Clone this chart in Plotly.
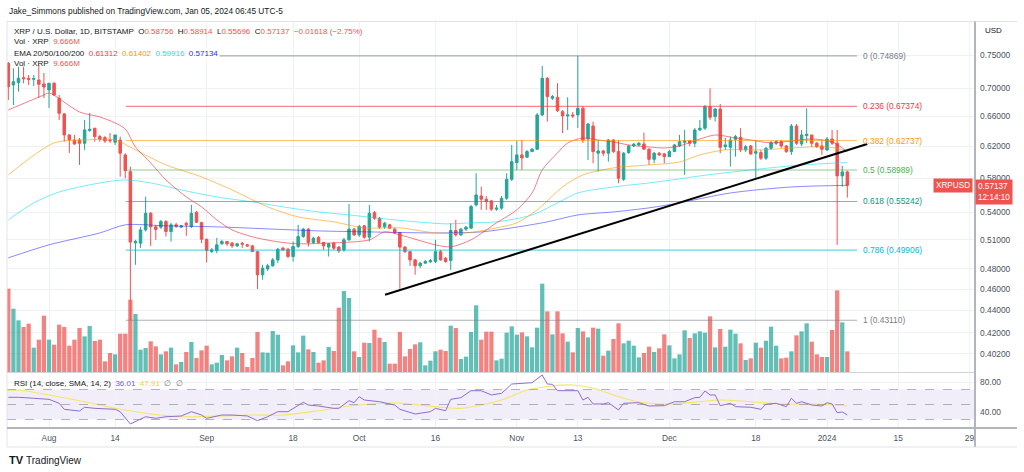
import math
import pandas as pd
import plotly.graph_objects as go

# ---------------- data ----------------
start_date = "2023-07-24"   # first visible daily candle

open_ = [
    0.7371, 0.7045, 0.7079, 0.7153, 0.7144, 0.7129, 0.7119, 0.7060, 0.6972, 0.7070,
    0.6852, 0.6632, 0.6347, 0.6281, 0.6281, 0.6238, 0.6405, 0.6437, 0.6325, 0.6312,
    0.6281, 0.6251, 0.6281, 0.6088, 0.5879, 0.5067, 0.5064, 0.5206, 0.5390, 0.5239,
    0.5236, 0.5297, 0.5188, 0.5261, 0.5236, 0.5279, 0.5243, 0.5401, 0.5286, 0.5106,
    0.4975, 0.4986, 0.5057, 0.5081, 0.5064, 0.5035, 0.5062, 0.5046, 0.5035, 0.4975,
    0.4740, 0.4799, 0.4830, 0.4890, 0.5011, 0.5000, 0.4924, 0.5028, 0.5134, 0.5214,
    0.5071, 0.5124, 0.5071, 0.5022, 0.5064, 0.5022, 0.4993, 0.5099, 0.5214, 0.5152,
    0.5250, 0.5127, 0.5397, 0.5334, 0.5239, 0.5261, 0.5214, 0.5177, 0.5022, 0.4975,
    0.4890, 0.4830, 0.4857, 0.4870, 0.4873, 0.4975, 0.4907, 0.4883, 0.5199, 0.5152,
    0.5214, 0.5225, 0.5485, 0.5588, 0.5550, 0.5531, 0.5436, 0.5448, 0.5561, 0.5786,
    0.5991, 0.6088, 0.6059, 0.6130, 0.6161, 0.6618, 0.7144, 0.6852, 0.6867, 0.6663,
    0.6604, 0.6618, 0.6618, 0.6711, 0.6294, 0.6467, 0.6110, 0.6139, 0.6110, 0.6281,
    0.6130, 0.5786, 0.6118, 0.6203, 0.6216, 0.6229, 0.6161, 0.6032, 0.6110, 0.6101,
    0.6066, 0.6130, 0.6203, 0.6250, 0.6270, 0.6238, 0.6414, 0.6437, 0.6733, 0.6594,
    0.6700, 0.6194, 0.6186, 0.6290, 0.6317, 0.6152, 0.6203, 0.6110, 0.6118, 0.6046,
    0.6174, 0.6238, 0.6259, 0.6203, 0.6130, 0.6467, 0.6229, 0.6338, 0.6347, 0.6238,
    0.6203, 0.6152, 0.6294, 0.6238, 0.5827, 0.58756,
]
high = [
    0.7391, 0.7295, 0.7319, 0.7319, 0.7194, 0.7194, 0.7345, 0.7224, 0.7074, 0.7089,
    0.6900, 0.6645, 0.6360, 0.6347, 0.6307, 0.6549, 0.6645, 0.6441, 0.6347, 0.6334,
    0.6374, 0.6347, 0.6325, 0.6110, 0.5941, 0.5099, 0.5239, 0.5580, 0.5404, 0.5261,
    0.5316, 0.5316, 0.5283, 0.5283, 0.5261, 0.5294, 0.5485, 0.5416, 0.5294, 0.5110,
    0.5014, 0.5120, 0.5099, 0.5088, 0.5078, 0.5067, 0.5078, 0.5057, 0.5046, 0.4983,
    0.4840, 0.4850, 0.4911, 0.5014, 0.5025, 0.5014, 0.5081, 0.5261, 0.5228, 0.5228,
    0.5131, 0.5141, 0.5078, 0.5067, 0.5078, 0.5035, 0.5120, 0.5496, 0.5228, 0.5261,
    0.5261, 0.5485, 0.5416, 0.5349, 0.5294, 0.5272, 0.5228, 0.5184, 0.5035, 0.4983,
    0.4901, 0.4870, 0.4890, 0.4901, 0.5099, 0.4993, 0.4921, 0.5279, 0.5316, 0.5228,
    0.5250, 0.5485, 0.5859, 0.5698, 0.5588, 0.5542, 0.5485, 0.5588, 0.5859, 0.6216,
    0.6268, 0.6281, 0.6152, 0.6177, 0.6645, 0.7330, 0.7164, 0.6900, 0.7070, 0.6687,
    0.6867, 0.6659, 0.74869, 0.6743, 0.6508, 0.6526, 0.6281, 0.6152, 0.6294, 0.6294,
    0.6281, 0.6126, 0.6216, 0.6242, 0.6255, 0.6378, 0.6177, 0.6126, 0.6126, 0.6114,
    0.6152, 0.6229, 0.6347, 0.6414, 0.6281, 0.6441, 0.6549, 0.6757, 0.6997, 0.6715,
    0.6771, 0.6307, 0.6325, 0.6347, 0.6437, 0.6216, 0.6216, 0.6281, 0.6152, 0.6190,
    0.6268, 0.6281, 0.6281, 0.6216, 0.6494, 0.6494, 0.6414, 0.6711, 0.6347, 0.6255,
    0.6281, 0.6320, 0.6414, 0.6414, 0.5950, 0.58914,
]
low = [
    0.6828, 0.6757, 0.6947, 0.7070, 0.7045, 0.7030, 0.6857, 0.6857, 0.6715, 0.6886,
    0.6549, 0.6259, 0.6114, 0.6216, 0.5962, 0.6152, 0.6391, 0.6259, 0.6259, 0.6242,
    0.6242, 0.6216, 0.5818, 0.5799, 0.4311, 0.4840, 0.5014, 0.5188, 0.5035, 0.5099,
    0.5217, 0.5134, 0.5081, 0.5228, 0.5228, 0.5141, 0.5225, 0.5283, 0.5064, 0.4863,
    0.4962, 0.4959, 0.5046, 0.5035, 0.5014, 0.5025, 0.5014, 0.5025, 0.4973, 0.4601,
    0.4691, 0.4779, 0.4820, 0.4860, 0.4983, 0.4911, 0.4873, 0.5011, 0.5120, 0.5028,
    0.5057, 0.5067, 0.4993, 0.4924, 0.4993, 0.4962, 0.4973, 0.5088, 0.5141, 0.5131,
    0.5110, 0.5081, 0.5316, 0.5217, 0.5217, 0.5217, 0.5163, 0.4604, 0.4962, 0.4830,
    0.4740, 0.4809, 0.4850, 0.4860, 0.4857, 0.4880, 0.4860, 0.4789, 0.5134, 0.5141,
    0.5195, 0.5217, 0.5466, 0.5428, 0.5428, 0.5417, 0.5417, 0.5428, 0.5542, 0.5766,
    0.5900, 0.5900, 0.6050, 0.6126, 0.6152, 0.6604, 0.6526, 0.6828, 0.6659, 0.6370,
    0.6414, 0.6576, 0.6441, 0.6242, 0.6024, 0.5983, 0.5879, 0.6075, 0.6003, 0.6114,
    0.5738, 0.5766, 0.6101, 0.6190, 0.6203, 0.6152, 0.5962, 0.5983, 0.6075, 0.5983,
    0.6062, 0.6126, 0.6190, 0.5839, 0.6200, 0.6190, 0.6397, 0.6414, 0.6549, 0.6526,
    0.6110, 0.6152, 0.5941, 0.6066, 0.6126, 0.6126, 0.6088, 0.5799, 0.6024, 0.6024,
    0.6152, 0.6216, 0.6177, 0.6114, 0.6088, 0.6216, 0.6203, 0.6238, 0.6190, 0.6177,
    0.6088, 0.6139, 0.6216, 0.5046, 0.5698, 0.55696,
]
close = [
    0.7020, 0.7094, 0.7144, 0.7138, 0.7129, 0.7141, 0.7055, 0.7016, 0.7070, 0.6900,
    0.6641, 0.6347, 0.6281, 0.6229, 0.6238, 0.6414, 0.6423, 0.6325, 0.6290, 0.6268,
    0.6272, 0.6347, 0.6110, 0.5891, 0.5075, 0.5083, 0.5206, 0.5390, 0.5239, 0.5211,
    0.5297, 0.5188, 0.5261, 0.5243, 0.5250, 0.5261, 0.5390, 0.5290, 0.5106, 0.4986,
    0.4993, 0.5046, 0.5081, 0.5057, 0.5035, 0.5057, 0.5053, 0.5035, 0.4975, 0.4740,
    0.4806, 0.4830, 0.4890, 0.5000, 0.4993, 0.4924, 0.5028, 0.5134, 0.5214, 0.5071,
    0.5117, 0.5071, 0.5035, 0.5057, 0.5011, 0.4983, 0.5099, 0.5214, 0.5152, 0.5243,
    0.5127, 0.5390, 0.5334, 0.5236, 0.5279, 0.5225, 0.5177, 0.5022, 0.4975, 0.4890,
    0.4830, 0.4857, 0.4873, 0.4883, 0.4975, 0.4890, 0.4873, 0.5199, 0.5152, 0.5214,
    0.5236, 0.5466, 0.5600, 0.5550, 0.5523, 0.5436, 0.5448, 0.5561, 0.5786, 0.6003,
    0.6088, 0.6050, 0.6130, 0.6161, 0.6618, 0.7144, 0.6876, 0.6876, 0.6677, 0.6604,
    0.6618, 0.6604, 0.6711, 0.6281, 0.6494, 0.6130, 0.6139, 0.6110, 0.6281, 0.6130,
    0.5799, 0.6110, 0.6203, 0.6225, 0.6238, 0.6161, 0.6032, 0.6110, 0.6088, 0.6066,
    0.6130, 0.6216, 0.6259, 0.6270, 0.6238, 0.6414, 0.6437, 0.6733, 0.6586, 0.6700,
    0.6186, 0.6216, 0.6281, 0.6325, 0.6152, 0.6194, 0.6101, 0.6130, 0.6046, 0.6174,
    0.6246, 0.6259, 0.6203, 0.6130, 0.6467, 0.6238, 0.6347, 0.6356, 0.6238, 0.6194,
    0.6161, 0.6294, 0.6238, 0.5827, 0.5876, 0.57137,
]
volume_m = [
    38.98, 29.62, 24.16, 21.05, 22.61, 11.38, 15.12, 26.35, 15.12, 12.78,
    22.14, 21.05, 12.32, 15.12, 20.58, 16.68, 21.51, 14.50, 15.12, 4.99,
    8.89, 8.26, 17.93, 17.93, 33.83, 27.13, 10.45, 11.22, 14.34, 12.00,
    8.26, 9.67, 11.38, 3.59, 4.68, 9.35, 14.03, 6.55, 10.13, 12.32,
    3.59, 4.37, 7.95, 5.46, 7.33, 11.38, 8.89, 2.34, 6.55, 18.71,
    9.20, 9.04, 19.18, 17.46, 3.12, 4.99, 12.47, 9.20, 16.99, 10.60,
    9.35, 4.37, 5.46, 11.69, 9.82, 30.09, 37.88, 34.61, 9.67, 7.02,
    13.72, 13.56, 19.80, 16.06, 14.03, 3.90, 3.90, 18.71, 7.33, 10.76,
    12.94, 13.88, 3.12, 5.30, 9.67, 10.45, 9.82, 21.67, 20.58, 6.08,
    7.17, 18.71, 31.18, 15.12, 18.86, 18.86, 5.46, 6.24, 18.40, 21.36,
    17.46, 18.55, 16.68, 11.54, 20.73, 41.31, 28.37, 17.62, 28.37, 18.08,
    14.19, 9.20, 20.58, 19.02, 16.21, 20.73, 20.27, 7.64, 9.98, 15.43,
    22.76, 13.41, 14.65, 12.32, 6.86, 8.89, 11.85, 9.35, 11.07, 17.62,
    12.47, 6.39, 8.26, 19.49, 15.90, 18.08, 19.02, 18.40, 26.04, 11.54,
    20.11, 11.85, 19.80, 17.93, 13.41, 5.61, 6.39, 13.72, 11.38, 14.65,
    21.20, 12.32, 6.39, 6.70, 9.67, 17.15, 19.02, 22.76, 14.19, 8.26,
    7.02, 7.02, 19.64, 38.20, 23.23, 9.666,
]

# EMA lines (day index, price)
ema20_idx = [0, 7, 8, 14, 18, 21, 23, 25, 28, 31, 35, 38, 41, 44, 48, 53, 57, 64, 71, 74,
             77, 84, 87, 91, 96, 100, 103, 105, 108, 110, 113, 116, 119, 122, 126, 129, 132, 136, 139, 143,
             146, 150, 154, 158, 162, 165]
ema20_val = [0.6687, 0.6900, 0.6929, 0.6659, 0.6590, 0.6508, 0.6427, 0.6190, 0.5987, 0.5778,
             0.5577, 0.5462, 0.5316, 0.5206, 0.5131, 0.5078, 0.5057, 0.5067, 0.5099, 0.5184,
             0.5152, 0.5046, 0.5025, 0.5099, 0.5283, 0.5428, 0.5623, 0.5900, 0.6114, 0.6242,
             0.6307, 0.6281, 0.6255, 0.6216, 0.6190, 0.6177, 0.6203, 0.6294, 0.6347, 0.6307,
             0.6281, 0.6242, 0.6268, 0.6294, 0.6255, 0.61312]
ema50_idx = [0, 9, 15, 21, 25, 31, 38, 44, 51, 57, 64, 70, 77, 84, 90, 96, 100, 104, 109, 113,
             119, 126, 132, 136, 141, 148, 154, 161, 165]
ema50_val = [0.5839, 0.6242, 0.6281, 0.6281, 0.6152, 0.5962, 0.5815, 0.5659, 0.5462, 0.5349,
             0.5294, 0.5228, 0.5228, 0.5173, 0.5173, 0.5228, 0.5283, 0.5428, 0.5694, 0.5839,
             0.5925, 0.5962, 0.5999, 0.6088, 0.6152, 0.6152, 0.6177, 0.6190, 0.61402]
ema100_idx = [0, 5, 10, 18, 23, 28, 34, 41, 48, 54, 61, 67, 76, 86, 91, 96, 103, 108, 112, 119,
              126, 132, 136, 146, 156, 165]
ema100_val = [0.5316, 0.5508, 0.5635, 0.5742, 0.5778, 0.5742, 0.5659, 0.5577, 0.5519, 0.5462,
              0.5405, 0.5371, 0.5316, 0.5272, 0.5283, 0.5294, 0.5371, 0.5508, 0.5623, 0.5694,
              0.5742, 0.5791, 0.5827, 0.5900, 0.5962, 0.59916]
ema200_idx = [0, 8, 18, 23, 31, 41, 51, 61, 71, 84, 93, 99, 106, 112, 119, 126, 132, 142, 154, 165]
ema200_val = [0.4911, 0.5046, 0.5173, 0.5261, 0.5250, 0.5239, 0.5217, 0.5195, 0.5184, 0.5173,
              0.5184, 0.5228, 0.5294, 0.5371, 0.5405, 0.5451, 0.5508, 0.5623, 0.5694, 0.57134]

# RSI(14) and its SMA
rsi_idx = [0, 2, 5, 8, 10, 11, 14, 15, 17, 21, 22, 23, 24, 27, 29, 31, 34, 36, 38, 39,
           42, 44, 47, 49, 51, 53, 55, 58, 59, 61, 64, 65, 67, 68, 69, 70, 73, 76, 77, 80,
           83, 84, 86, 87, 89, 91, 93, 95, 97, 99, 101, 103, 105, 106, 107, 108, 112, 113, 114, 115,
           117, 118, 120, 121, 124, 126, 129, 131, 133, 135, 136, 137, 138, 139, 140, 142, 143, 146, 148, 149,
           151, 153, 154, 155, 156, 158, 160, 161, 162, 163, 164, 165]
rsi_val = [59.6, 59.6, 58.3, 56.9, 51.6, 43.6, 41.3, 46.3, 44.9, 43.6, 40.4, 31.6, 24.0, 33.7, 31.6, 33.7, 34.7, 40.4, 36.0, 31.6,
           36.0, 36.0, 34.7, 28.4, 33.7, 40.4, 40.4, 52.9, 49.3, 48.0, 44.9, 44.9, 55.1, 52.4, 60.4, 56.0, 53.7, 49.3, 43.6, 37.3,
           40.4, 44.9, 41.7, 56.9, 59.1, 68.4, 68.4, 62.7, 64.9, 77.3, 78.3, 79.1, 89.3, 77.3, 76.9, 68.4, 68.4, 56.0, 59.6, 50.7,
           50.7, 52.4, 42.7, 51.6, 52.4, 48.0, 48.4, 53.7, 53.7, 59.1, 59.6, 68.0, 62.7, 62.7, 48.4, 51.6, 47.1, 46.3, 43.6, 50.3,
           51.6, 47.1, 58.3, 51.6, 53.7, 49.3, 48.0, 52.4, 50.7, 39.1, 40.0, 36.01]
sma_idx = [0, 2, 8, 15, 21, 28, 34, 41, 48, 54, 61, 67, 74, 77, 84, 89, 97, 102, 107, 111,
           115, 120, 125, 130, 136, 140, 146, 152, 159, 165]
sma_val = [68.4, 69.3, 62.7, 53.7, 44.9, 37.3, 33.7, 34.7, 36.0, 36.0, 41.7, 48.0, 51.6, 52.0, 47.1, 44.9, 56.0, 69.3, 74.7, 76.0,
           71.6, 60.4, 52.4, 50.7, 53.7, 56.0, 53.7, 50.7, 50.7, 47.91]

# Fibonacci retracement tool
fib_ratios = ["0", "0.236", "0.382", "0.5", "0.618", "0.786", "1"]
fib_prices = [0.74869, 0.67374, 0.62737, 0.58989, 0.55242, 0.49906, 0.43110]
fib_colors = ["#787b86", "#f23645", "#ff9800", "#4caf50", "#089981", "#00bcd4", "#787b86"]
fib_span = ["2023-08-16 02:00", "2024-01-06 22:00"]

# trend line
trend_dates = ["2023-10-06 02:00", "2024-01-08 22:00"]
trend_prices = [0.4546, 0.6229]

tick_dates = ["2023-08-01", "2023-08-14", "2023-09-01", "2023-09-18", "2023-10-01", "2023-10-16",
              "2023-11-01", "2023-11-13", "2023-12-01", "2023-12-18", "2024-01-01", "2024-01-15", "2024-01-29"]
tick_text = ["Aug", "14", "Sep", "18", "Oct", "16", "Nov", "13", "Dec", "18", "2024", "15", "29"]
price_ticks = [0.75, 0.70, 0.66, 0.62, 0.58, 0.54, 0.51, 0.48, 0.46, 0.44, 0.42, 0.402]
rsi_ticks = [40, 80]
change_text = "\u22120.01618 (\u22122.75%)"

# ---------------- figure ----------------
W, H = 1024, 472
FONT = "Liberation Sans, Arial, sans-serif"
TXT = "#131722"
AX = "#4c525e"
GRID = "#eef1f6"
UP, DOWN = "#26a69a", "#ef5350"
UP_V, DOWN_V = "rgba(38,166,154,0.72)", "rgba(239,83,80,0.72)"
LEG = 8.0


def px(x):
    return x / W


def py(y):
    return 1 - y / H


dates = pd.date_range(start_date, periods=len(close), freq="D")
x_dom = [px(7), px(975)]
x_range = ["2023-07-23 17:46", "2024-01-30 02:31"]

fig = go.Figure()

# volume (base axis, drawn beneath the price overlay)
vol_colors = [UP_V if c >= o else DOWN_V for o, c in zip(open_, close)]
fig.add_trace(go.Bar(x=dates, y=volume_m, marker=dict(color=vol_colors, line=dict(width=0)),
                     width=0.84 * 86400000, xaxis="x", yaxis="y", hoverinfo="skip"))

# EMAs
for idx, val, col in [(ema200_idx, ema200_val, "rgba(41,41,255,0.55)"),
                      (ema100_idx, ema100_val, "rgba(0,220,245,0.55)"),
                      (ema50_idx, ema50_val, "rgba(255,152,0,0.6)"),
                      (ema20_idx, ema20_val, "rgba(242,54,69,0.65)")]:
    fig.add_trace(go.Scatter(x=[dates[i] for i in idx], y=val, mode="lines",
                             line=dict(color=col, width=1, shape="spline", smoothing=0.8),
                             xaxis="x", yaxis="y2", hoverinfo="skip"))

# fib levels
for r, p, c in zip(fib_ratios, fib_prices, fib_colors):
    fig.add_trace(go.Scatter(x=fib_span, y=[p, p], mode="lines",
                             line=dict(color=c, width=1.1), opacity=0.6,
                             xaxis="x", yaxis="y2", hoverinfo="skip"))

# trend line
fig.add_trace(go.Scatter(x=trend_dates, y=trend_prices, mode="lines",
                         line=dict(color="#000000", width=2),
                         xaxis="x", yaxis="y2", hoverinfo="skip"))

# candles
fig.add_trace(go.Candlestick(x=dates, open=open_, high=high, low=low, close=close,
                             increasing=dict(line=dict(color=UP, width=1), fillcolor=UP),
                             decreasing=dict(line=dict(color=DOWN, width=1), fillcolor=DOWN),
                             whiskerwidth=0, xaxis="x", yaxis="y2", hoverinfo="skip"))

# RSI pane
fig.add_trace(go.Scatter(x=[dates[i] for i in sma_idx], y=sma_val, mode="lines",
                         line=dict(color="#f7e463", width=1.1, shape="spline", smoothing=0.8),
                         xaxis="x2", yaxis="y3", hoverinfo="skip"))
fig.add_trace(go.Scatter(x=[dates[i] for i in rsi_idx], y=rsi_val, mode="lines",
                         line=dict(color="#8e6dd0", width=1),
                         xaxis="x2", yaxis="y3", hoverinfo="skip"))

shapes = []
# RSI band + levels
shapes.append(dict(type="rect", xref="x2 domain", yref="y3", x0=0, x1=1, y0=30, y1=70,
                   fillcolor="rgba(126,87,194,0.10)", line=dict(width=0), layer="below"))
for lvl in (70, 50, 30):
    shapes.append(dict(type="line", xref="x2 domain", yref="y3", x0=0, x1=1, y0=lvl, y1=lvl,
                       line=dict(color="rgba(120,123,134,0.55)", width=1, dash="dash")))
# last price dotted line
lp = math.log10(close[-1])
shapes.append(dict(type="line", xref="x domain", yref="y2", x0=0, x1=1, y0=lp, y1=lp,
                   line=dict(color="rgba(239,83,80,0.7)", width=1, dash="dot")))
# frame lines
frame = "#e0e3eb"
shapes += [
    dict(type="line", xref="paper", yref="paper", x0=px(7), x1=px(1017), y0=py(21.5), y1=py(21.5),
         line=dict(color=frame, width=1)),
    dict(type="line", xref="paper", yref="paper", x0=px(7), x1=px(7), y0=py(21.5), y1=py(447),
         line=dict(color=frame, width=1)),
    dict(type="line", xref="paper", yref="paper", x0=px(7), x1=px(975), y0=py(372.5), y1=py(372.5),
         line=dict(color="#d1d4dc", width=1)),
    dict(type="line", xref="paper", yref="paper", x0=px(7), x1=px(1017), y0=py(428), y1=py(428),
         line=dict(color="#b2b5be", width=2)),
    dict(type="line", xref="paper", yref="paper", x0=px(975), x1=px(975), y0=py(21.5), y1=py(447),
         line=dict(color="#b2b5be", width=2)),
    dict(type="line", xref="paper", yref="paper", x0=px(7), x1=px(1017), y0=py(447), y1=py(447),
         line=dict(color=frame, width=1)),
]

ann = []


def text(x, y, t, size=LEG, color=TXT, anchor="left", bg=None, **kw):
    d = dict(x=px(x), y=py(y), xref="paper", yref="paper", text=t, showarrow=False,
             xanchor=anchor, yanchor="middle", font=dict(family=FONT, size=size, color=color))
    if bg:
        d["bgcolor"] = bg
    d.update(kw)
    ann.append(d)


def col(t, c):
    return "<span style='color:%s'>%s</span>" % (c, t)


sp = "\u00a0\u00a0"
text(7, 11, "Jake_Simmons published on TradingView.com, Jan 05, 2024 06:45 UTC-5", size=8.3)
text(12, 31, "XRP / U.S. Dollar, 1D, BITSTAMP" + sp + "O" + col("%.5f" % open_[-1], DOWN) + sp +
     "H" + col("%.5f" % high[-1], DOWN) + sp + "L" + col("%.5f" % low[-1], DOWN) + sp +
     "C" + col("%.5f" % close[-1], DOWN) + sp + col(change_text, DOWN))
text(12, 42, "Vol \u00b7 XRP" + sp + col("%.3fM" % volume_m[-1], DOWN))
text(12, 53, "EMA 20/50/100/200" + sp + col("%.5f" % ema20_val[-1], "#f23645") + sp +
     col("%.5f" % ema50_val[-1], "#ff9800") + sp + col("%.5f" % ema100_val[-1], "#1fd8f0") + sp +
     col("%.5f" % ema200_val[-1], "#2a2aff"), bg="white")
text(12, 63.5, "Vol \u00b7 XRP" + sp + col("%.3fM" % volume_m[-1], DOWN))
text(12, 383, "RSI (14, close, SMA, 14, 2)" + sp + col("%.2f" % rsi_val[-1], "#7e57c2") + sp +
     col("%.2f" % sma_val[-1], "#f0d43a") + sp + col("\u2205", "#787b86") + sp + col("\u2205", "#787b86"))
text(993, 30, "USD", anchor="center")

# fib labels
for r, p, c in zip(fib_ratios, fib_prices, fib_colors):
    ann.append(dict(x=fib_span[1], y=math.log10(p), xref="x", yref="y2", xanchor="left", yanchor="middle",
                    xshift=4, showarrow=False, text="%s (%.5f)" % (r, p),
                    font=dict(family=FONT, size=8.4, color=c)))

# last price labels
ann.append(dict(x=px(973), y=lp, xref="paper", yref="y2", xanchor="right", yanchor="middle",
                showarrow=False, text="XRPUSD", bgcolor=DOWN, borderpad=2,
                font=dict(family=FONT, size=8.2, color="white")))
ann.append(dict(x=px(975), y=py(179), xref="paper", yref="paper", xanchor="left", yanchor="top",
                showarrow=False, text="%.5f<br>12:14:10" % close[-1], bgcolor=DOWN, borderpad=2,
                align="left", font=dict(family=FONT, size=8.2, color="white")))

# footer logo
text(7, 460, "<b>TV</b>", size=11, color="#131722")
text(24, 460, "TradingView", size=10, color="#131722")

price_dom = [py(372), py(22)]
rsi_dom = [py(428), py(373)]
fig.update_layout(
    width=W, height=H, margin=dict(l=0, r=0, t=0, b=0),
    paper_bgcolor="white", plot_bgcolor="white", showlegend=False, hovermode=False,
    font=dict(family=FONT, size=8.4, color=AX),
    shapes=shapes, annotations=ann,
    xaxis=dict(domain=x_dom, range=x_range, type="date", anchor="y", tickvals=tick_dates,
               showticklabels=False, showgrid=True, gridcolor=GRID, zeroline=False, ticks="",
               rangeslider=dict(visible=False), showline=False, fixedrange=True),
    yaxis=dict(domain=price_dom, range=[0, 163.7], visible=False, fixedrange=True),
    yaxis2=dict(overlaying="y", side="right", anchor="x", type="log", range=[-0.41234, -0.09502],
                tickvals=price_ticks, ticktext=["%.5f" % v for v in price_ticks],
                showgrid=True, gridcolor=GRID, zeroline=False, ticks="", ticklabelstandoff=4,
                tickfont=dict(family=FONT, size=8.4, color=AX), fixedrange=True),
    xaxis2=dict(domain=x_dom, range=x_range, type="date", anchor="y3", matches="x",
                tickvals=tick_dates, ticktext=tick_text, showgrid=True, gridcolor=GRID,
                zeroline=False, ticks="", ticklabelstandoff=4,
                tickfont=dict(family=FONT, size=8.4, color=AX), rangeslider=dict(visible=False),
                fixedrange=True),
    yaxis3=dict(domain=rsi_dom, range=[18.67, 92], side="right", anchor="x2",
                tickvals=rsi_ticks, ticktext=["%.2f" % v for v in rsi_ticks], showgrid=True,
                gridcolor=GRID, zeroline=False, ticks="", ticklabelstandoff=4,
                tickfont=dict(family=FONT, size=8.4, color=AX), fixedrange=True),
)

# remove the default page margin so the 1024x472 figure fills the window exactly
fig.write_html("out.html", config={"displayModeBar": False, "staticPlot": True},
               post_script="document.body.style.margin='0';document.body.style.overflow='hidden';")
